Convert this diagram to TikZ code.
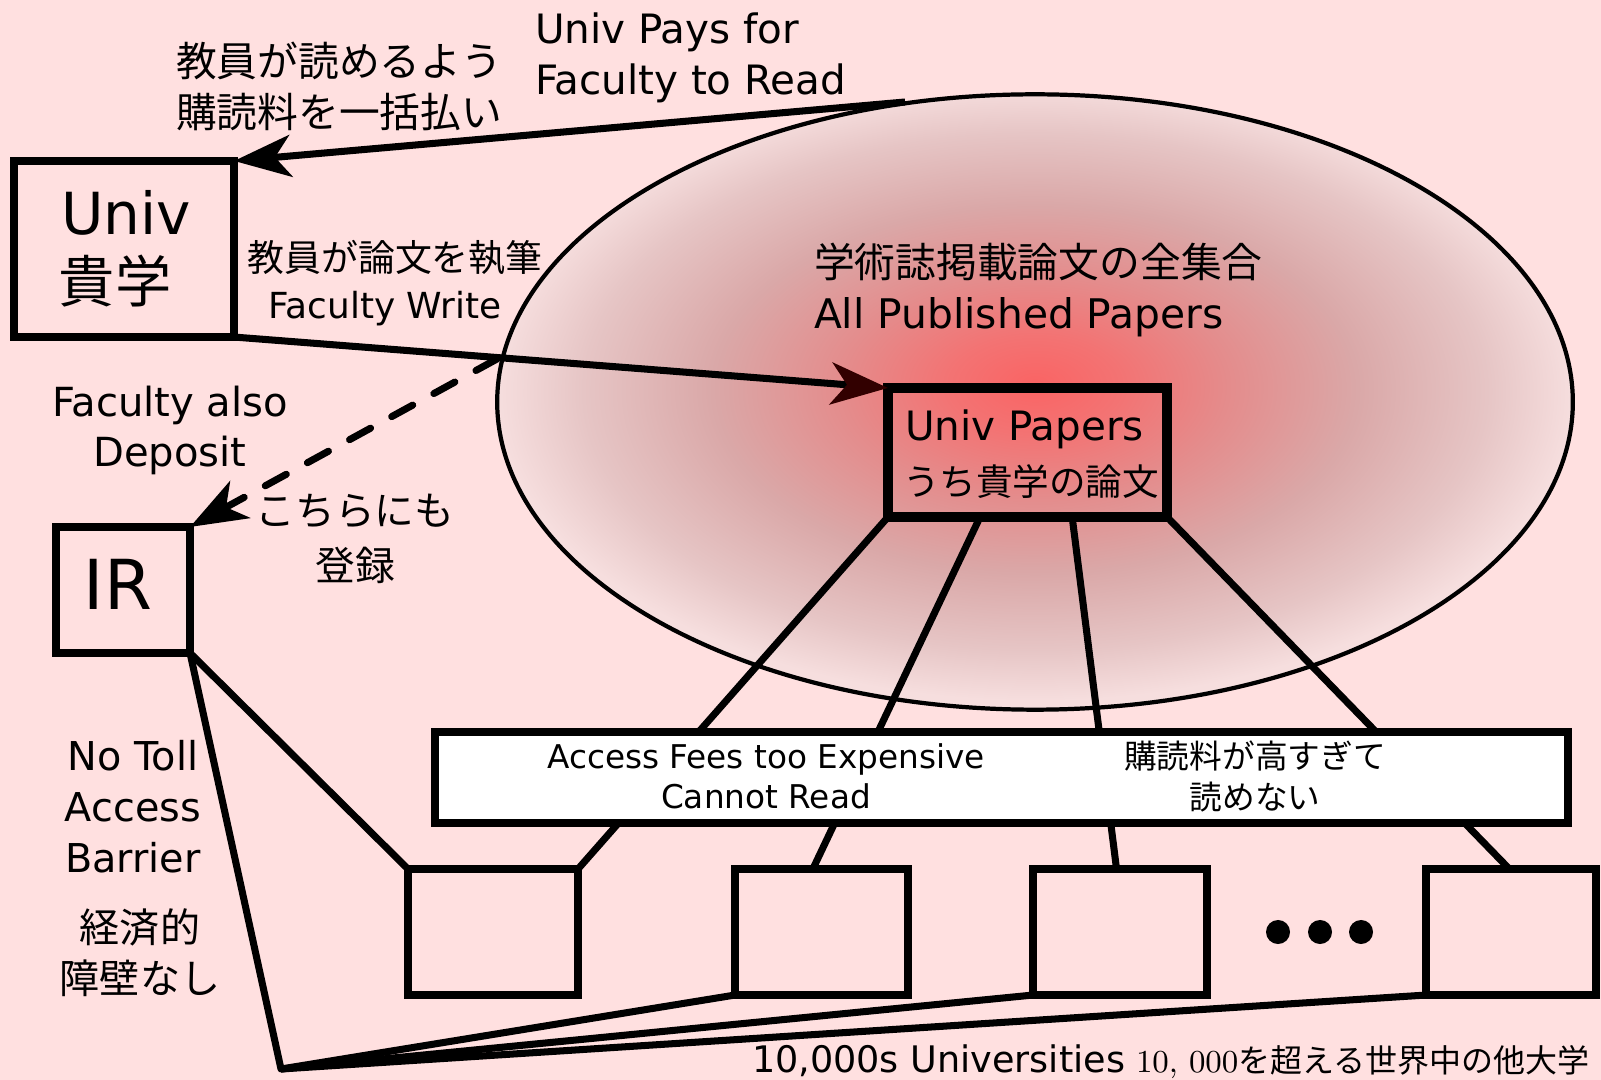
\documentclass[tikz,border=0pt]{standalone}
\usepackage{fontspec}
\setsansfont{DejaVu Sans}
\newfontfamily\jp{Noto Sans CJK JP}
\usetikzlibrary{arrows.meta,shapes.geometric,calc}
\definecolor{bg}{RGB}{255,224,224}
\definecolor{shA}{RGB}{250,100,100}
\definecolor{shB}{RGB}{243,115,115}
\definecolor{shC}{RGB}{228,140,140}
\definecolor{shD}{RGB}{218,168,168}
\definecolor{shE}{RGB}{230,197,197}
\definecolor{shF}{RGB}{246,222,222}
\definecolor{tipred}{RGB}{50,0,0}
\pgfdeclareradialshading{ellshade}{\pgfpoint{0bp}{1.5bp}}{color(0bp)=(shA); color(4bp)=(shB); color(9bp)=(shC); color(15bp)=(shD); color(21bp)=(shE); color(25bp)=(shF); color(50bp)=(shF)}
\tikzset{
  en/.style={inner sep=0pt, outer sep=0pt, font=\sffamily\fontsize{#1}{#1}\selectfont},
  jpn/.style={inner sep=0pt, outer sep=0pt, font=\jp\fontsize{#1}{#1}\selectfont},
  box/.style={draw, line width=2.3pt, inner sep=0pt, outer sep=0pt},
  conn/.style={line width=2pt, line join=round},
  arr/.style={line width=2pt, -{Stealth[length=0.57cm,width=0.42cm,inset=0.16cm]}},
}
\begin{document}
\begin{tikzpicture}[x=0.01cm,y=-0.01cm]
\useasboundingbox (0,0) rectangle (1601,1080);
\fill[bg] (0,0) rectangle (1601,1080);

% ellipse of all papers
\node[ellipse, draw, line width=1.2pt, minimum width=10.75cm, minimum height=6.15cm,
      inner sep=0pt, outer sep=0pt, shading=ellshade] (ell) at (1035,402) {};

% boxes
\node[box, minimum width=2.79cm, minimum height=1.29cm, line width=2.85pt] (pp) at (1027.5,452.5) {};
\node[box, minimum width=1.70cm, minimum height=1.26cm] (b1) at (493,932) {};
\node[box, minimum width=1.73cm, minimum height=1.26cm] (b2) at (821.5,932) {};
\node[box, minimum width=1.74cm, minimum height=1.26cm] (b3) at (1120,932) {};
\node[box, minimum width=1.70cm, minimum height=1.26cm] (b4) at (1511,932) {};

% lines from univ papers to other universities
\draw[conn] (pp.south west) -- (b1.north east);
\draw[conn] ($(pp.south west)!0.33!(pp.south east)$) -- ($(b2.north west)!0.45!(b2.north east)$);
\draw[conn] ($(pp.south west)!0.66!(pp.south east)$) -- ($(b3.north west)!0.48!(b3.north east)$);
\draw[conn] (pp.south east) -- ($(b4.north west)!0.49!(b4.north east)$);

% wide box
\node[box, fill=white, minimum width=11.33cm, minimum height=0.91cm] (wide) at (1001.5,777.5) {};

\node[box, minimum width=2.20cm, minimum height=1.76cm] (univ) at (124,249) {};
\node[box, minimum width=1.34cm, minimum height=1.26cm] (ir) at (123,590) {};

\coordinate (apex) at (281,1069);
\coordinate (payS) at (905,102);
\coordinate (depS) at (497,359);

% IR connections
\draw[conn] (ir.south east) -- (b1.north west);
\draw[conn] (ir.south east) -- (apex) -- (b2.south west);
\draw[conn] (apex) -- (b3.south west);
\draw[conn] (apex) -- (b4.south west);

% arrows
\draw[arr] (payS) -- (univ.north east);
\draw[line width=2pt, -{Stealth[length=0.57cm,width=0.42cm,inset=0.16cm,color=tipred]}] (univ.south east) -- (pp.north west);
\draw[arr, dash pattern=on 0.24cm off 0.24cm, line cap=round] (depS) -- (ir.north east);

% dots
\fill (1278,932) circle[radius=0.12cm];
\fill (1320,932) circle[radius=0.12cm];
\fill (1361,932) circle[radius=0.12cm];

% texts
\node[en=11.5pt, anchor=base west] (t1a) at (535,44) {Univ Pays for};
\node[en=11.5pt, anchor=base west] (t1b) at (535,95) {Faculty to Read};
\node[jpn=11.6pt, anchor=west] (t2a) at (176,61) {教員が読めるよう};
\node[jpn=11.6pt, anchor=west] (t2b) at (176,112) {購読料を一括払い};
\node[en=16.5pt, anchor=base] (u1) at (126,235) {Univ};
\node[jpn=16pt] (u2) at (115,281) {貴学};
\node[jpn=10.5pt] (t3a) at (395,258) {教員が論文を執筆};
\node[en=10.2pt, anchor=base] (t3b) at (385,319) {Faculty Write};
\node[jpn=11.6pt, anchor=west] (t4a) at (814,262) {学術誌掲載論文の全集合};
\node[en=11.6pt, anchor=base west] (t4b) at (814,329) {All Published Papers};
\node[en=11.5pt, anchor=base west] (t5a) at (905,441) {Univ Papers};
\node[jpn=10.4pt, anchor=west] (t5b) at (903,482) {うち貴学の論文};
\node[en=11.4pt, anchor=base] (t6a) at (170,417) {Faculty also};
\node[en=11.4pt, anchor=base] (t6b) at (170,467) {Deposit};
\node[jpn=11.3pt] (t7a) at (355,511) {こちらにも};
\node[jpn=11.3pt] (t7b) at (355,565) {登録};
\node[en=19.6pt, anchor=base] (t8) at (118,610) {IR};
\node[en=11.3pt, anchor=base] (t9a) at (133,770) {No Toll};
\node[en=11.3pt, anchor=base] (t9b) at (133,821) {Access};
\node[en=11.3pt, anchor=base] (t9c) at (133,872) {Barrier};
\node[jpn=11.4pt] (t10a) at (140,927) {経済的};
\node[jpn=11.4pt] (t10b) at (140,978) {障壁なし};
\node[en=9.3pt, anchor=base] (t11a) at (766,768) {Access Fees too Expensive};
\node[en=9.3pt, anchor=base] (t11b) at (766,808) {Cannot Read};
\node[jpn=9.3pt] (t12a) at (1255,756) {購読料が高すぎて};
\node[jpn=9.3pt] (t12b) at (1255,797) {読めない};
\node[en=10.4pt, anchor=base west] (t13a) at (752,1072) {10,000s Universities};
\node[en=9.1pt, anchor=base west] (t13b) at (1136,1072) {\rmfamily 10, 000\jp を超える世界中の他大学};
\end{tikzpicture}
\end{document}
